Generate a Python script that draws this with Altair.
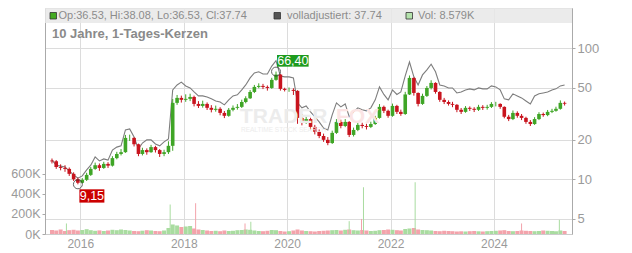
import altair as alt
import pandas as pd

# ---------------- data ----------------
# monthly candles, June 2015 .. May 2025
first_open = 13.9
close_px = [13.7, 12.4, 12.2, 12.0, 11.0, 10.0, 9.4, 9.9, 10.8, 12.0,
            12.8, 12.2, 13.1, 12.7, 14.5, 15.6, 16.1, 20.7, 20.7, 18.5,
            15.6, 16.7, 16.1, 17.6, 16.7, 15.6, 16.1, 18.0, 38.3, 41.8,
            40.4, 41.1, 42.5, 37.6, 36.3, 37.6, 35.1, 33.9, 34.5, 32.1,
            30.5, 33.9, 35.1, 35.7, 38.9, 41.5, 46.4, 50.7, 51.6, 50.7,
            49.8, 57.4, 63.0, 49.0, 48.1, 48.1, 47.3, 29.4, 27.4, 28.8,
            25.1, 23.0, 21.4, 20.0, 18.9, 22.6, 27.4, 25.5, 27.4, 21.8,
            23.8, 26.0, 25.5, 25.1, 26.4, 29.4, 35.7, 33.3, 30.5, 36.3,
            32.7, 31.5, 44.4, 59.4, 45.6, 37.6, 43.3, 49.8, 54.4, 46.4,
            40.4, 38.9, 37.6, 37.0, 33.9, 32.7, 35.1, 34.5, 33.9, 35.7,
            35.1, 35.7, 37.6, 37.6, 35.7, 30.0, 28.8, 32.1, 30.5, 29.4,
            27.4, 26.4, 28.8, 31.5, 30.9, 32.7, 33.3, 34.5, 38.3, 37.74]
high_px = [14.4, 14.0, 13.0, 12.8, 12.3, 11.3, 10.3, 10.2, 11.2, 12.4,
           13.4, 13.2, 13.6, 13.5, 15.0, 16.2, 17.0, 21.8, 21.9, 20.9,
           18.7, 17.4, 17.2, 18.3, 18.0, 17.0, 16.8, 19.5, 41.0, 44.0,
           43.5, 44.5, 45.0, 43.5, 39.5, 39.8, 38.6, 36.8, 36.5, 35.5,
           33.2, 35.0, 36.6, 37.5, 40.5, 43.0, 48.0, 52.5, 54.0, 53.5,
           52.0, 59.5, 66.4, 63.5, 50.0, 50.2, 49.5, 47.8, 31.5, 30.5,
           29.5, 26.0, 24.0, 22.3, 21.0, 23.5, 28.8, 28.5, 28.8, 27.8,
           24.8, 27.2, 27.0, 26.5, 27.5, 30.5, 37.5, 36.5, 34.0, 37.8,
           37.0, 34.0, 46.5, 62.0, 60.0, 46.0, 45.0, 51.5, 57.0, 55.0,
           47.0, 41.8, 40.0, 39.0, 37.5, 35.0, 36.2, 36.0, 35.5, 37.0,
           36.8, 37.0, 38.8, 39.0, 38.0, 36.0, 31.0, 33.5, 33.0, 31.5,
           30.0, 28.3, 29.8, 32.5, 32.3, 33.8, 34.5, 35.8, 40.0, 39.2]
low_px = [13.2, 12.0, 11.7, 11.4, 10.6, 9.7, 9.15, 9.3, 9.7, 10.6,
          11.8, 11.6, 12.0, 12.2, 12.5, 14.2, 15.2, 15.9, 19.6, 17.8,
          15.0, 15.2, 15.4, 15.9, 16.0, 14.8, 15.0, 15.6, 16.5, 37.0,
          38.5, 39.0, 39.5, 36.0, 35.0, 35.2, 33.8, 32.4, 32.8, 30.8,
          29.3, 30.0, 33.0, 34.0, 35.0, 38.0, 41.0, 45.5, 49.5, 48.8,
          47.5, 49.0, 56.5, 47.5, 46.8, 46.5, 44.0, 26.5, 25.8, 26.5,
          24.0, 22.0, 20.6, 19.3, 18.2, 18.6, 22.2, 24.5, 25.0, 21.0,
          21.2, 23.3, 24.5, 24.0, 24.6, 26.0, 29.0, 32.0, 29.5, 30.0,
          31.5, 30.5, 31.0, 44.0, 43.5, 36.0, 37.0, 42.5, 48.5, 45.0,
          39.0, 37.5, 36.5, 35.5, 32.5, 31.5, 32.2, 33.2, 32.6, 33.2,
          33.8, 34.0, 35.0, 36.0, 34.5, 29.2, 27.8, 28.3, 29.5, 28.3,
          26.5, 25.5, 26.0, 28.3, 30.0, 30.3, 32.0, 32.8, 34.0, 36.53]
adj_px = [14.0, 12.8, 12.6, 12.4, 11.6, 10.8, 10.2, 10.6, 11.8, 12.8,
          14.8, 13.8, 14.3, 14.0, 16.7, 17.6, 18.0, 23.8, 24.2, 21.0,
          17.0, 18.9, 20.0, 20.0, 18.6, 18.0, 19.3, 20.3, 48.1, 52.5,
          55.2, 51.6, 49.8, 46.4, 43.3, 43.3, 42.5, 41.1, 39.6, 38.9,
          37.0, 40.4, 43.3, 44.1, 48.1, 52.5, 59.4, 64.9, 66.1, 63.7,
          63.7, 73.1, 80.3, 61.5, 60.5, 60.5, 59.4, 38.3, 35.1, 36.3,
          32.7, 30.0, 27.4, 24.6, 23.8, 31.0, 38.3, 35.7, 37.6, 30.0,
          32.7, 35.1, 33.9, 33.3, 35.1, 40.4, 50.7, 44.4, 40.4, 48.1,
          44.4, 46.4, 61.5, 78.6, 60.5, 52.5, 62.6, 68.4, 75.6, 66.1,
          52.5, 51.6, 49.8, 49.8, 45.6, 46.4, 48.1, 49.0, 48.1, 49.8,
          49.0, 49.0, 51.6, 50.7, 48.1, 41.1, 40.4, 44.9, 43.3, 41.8,
          39.6, 37.6, 43.3, 44.9, 45.6, 46.4, 48.1, 49.0, 51.6, 52.5]
vol_k = [40, 35, 45, 30, 38, 42, 35, 40, 48, 38, 32, 36,
         30, 35, 42, 38, 45, 40, 35, 30, 28, 33, 38, 35,
         30, 28, 35, 60, 95, 85, 70, 75, 80, 55, 45, 40,
         35, 30, 32, 28, 35, 30, 32, 38, 40, 45, 42, 35,
         30, 28, 32, 40, 38, 30, 25, 28, 35, 45, 35, 30,
         28, 25, 30, 32, 35, 38, 40, 35, 42, 45, 38, 35,
         40, 35, 30, 32, 38, 40, 45, 42, 38, 35, 50, 55,
         60, 45, 40, 38, 35, 30, 28, 32, 30, 28, 25, 27,
         25, 28, 30, 27, 25, 28, 30, 32, 35, 38, 30, 28,
         30, 35, 32, 30, 28, 30, 35, 32, 30, 28, 35, 30]

# single-day volume spikes
spike_dates = ["2015-09-25", "2017-09-27", "2018-03-26", "2019-03-10", "2019-04-20",
               "2021-03-15", "2021-06-10", "2021-06-24", "2022-06-24", "2024-07-15",
               "2025-04-08"]
spike_vol_k = [105, 294, 307, 105, 122, 128, 150, 466, 516, 105, 141]
spike_dir = ["up", "up", "down", "down", "up", "up", "down", "up", "up", "down", "up"]

# annotations
ann_idx = [52, 6]
ann_val = [66.40, 9.15]
ann_text = ["66,40", "9,15"]

header_items = ["Op:36.53, Hi:38.08, Lo:36.53, Cl:37.74", "volladjustiert: 37.74", "Vol: 8.579K"]
title_text = "10 Jahre, 1-Tages-Kerzen"

price_ticks = [5, 10, 20, 50, 100]
vol_ticks = [0, 200, 400, 600]
year_ticks = [2016, 2018, 2020, 2022, 2024]

# ---------------- tables ----------------
dates = (pd.date_range("2015-06-01", periods=120, freq="MS") + pd.Timedelta(days=14)).strftime("%Y-%m-%d").tolist()
open_px = [first_open] + close_px[:-1]
df = pd.DataFrame({"d": dates, "o": open_px, "h": high_px, "l": low_px,
                   "c": close_px, "adj": adj_px, "vol": vol_k})
df["dir"] = ["up" if c >= o else "down" for o, c in zip(open_px, close_px)]
spikes = pd.DataFrame({"d": spike_dates, "vol": spike_vol_k, "dir": spike_dir})
ann = pd.DataFrame({"d": [dates[i] for i in ann_idx], "p": ann_val, "lab": ann_text})
one = pd.DataFrame({"a": [0]})

W, H = 527, 226
FONT = "Liberation Sans"
GREEN, RED = "#3fa526", "#c8141e"
VGREEN, VRED = "#a9dca0", "#f3a3ab"

xscale = alt.Scale(domain=[alt.DateTime(year=2015, month=6, date=1),
                           alt.DateTime(year=2025, month=6, date=1)])
xaxis = alt.Axis(values=[alt.DateTime(year=y, month=1, date=1) for y in year_ticks],
                 format="%Y", grid=True, gridColor="#dcdcdc", ticks=False, domain=False,
                 labelColor="#9a9a9a", labelFontSize=12, labelPadding=4, title=None,
                 labelFont=FONT)
X = alt.X("d:T", scale=xscale, axis=xaxis)

pscale = alt.Scale(type="log", domain=[3.82, 203], nice=False)
paxis = alt.Axis(orient="right", values=price_ticks, format="d", grid=True, gridColor="#dcdcdc",
                 tickSize=3, tickColor="#aaaaaa", domainColor="#aaaaaa", labelColor="#9a9a9a",
                 labelFontSize=13, labelPadding=2, title=None, labelFont=FONT)
vscale = alt.Scale(domain=[0, 2253], nice=False, zero=True)
vaxis = alt.Axis(orient="left", values=vol_ticks, labelExpr="datum.value + 'K'", grid=False,
                 tickSize=3, tickColor="#aaaaaa", domainColor="#aaaaaa", labelColor="#9a9a9a",
                 labelFontSize=12.5, labelPadding=2, title=None, labelFont=FONT)


def PY(field):
    return alt.Y(field, type="quantitative", scale=pscale, axis=paxis)


def VY(field):
    return alt.Y(field, type="quantitative", scale=vscale, axis=vaxis)


cscale = alt.Scale(domain=["up", "down"], range=[GREEN, RED])
vcscale = alt.Scale(domain=["up", "down"], range=[VGREEN, VRED])

base = alt.Chart(df)

# header band and watermark
band = alt.Chart(one).mark_rect(color="#e8e8e8", opacity=0.85).encode(
    x=alt.value(0), x2=alt.value(W), y=alt.value(0), y2=alt.value(15))
wm1 = alt.Chart(one).mark_text(text="TRADER", font=FONT, fontSize=21, fontWeight="bold",
                               color="#ececec", align="left", baseline="alphabetic").encode(
    x=alt.value(195), y=alt.value(115))
wm2 = alt.Chart(one).mark_text(text="FOX", font=FONT, fontSize=21, fontWeight="bold",
                               color="#fbe4e4", align="left", baseline="alphabetic").encode(
    x=alt.value(291), y=alt.value(115))
wm3 = alt.Chart(one).mark_text(text="REALTIME STOCK SEARCH", font=FONT, fontSize=6.5,
                               color="#ececec", align="left", baseline="alphabetic").encode(
    x=alt.value(196), y=alt.value(124))

# volume
vbars = base.mark_bar(size=4).encode(
    x=X, y=VY("vol"),
    color=alt.Color("dir:N", scale=vcscale, legend=None))
vspk = alt.Chart(spikes).mark_rule(strokeWidth=1).encode(
    x=X, y=VY("vol"), y2=alt.value(H),
    color=alt.Color("dir:N", scale=vcscale, legend=None))
vol_layer = alt.layer(vbars, vspk)

# price
gray = base.mark_line(color="#7d7d7d", strokeWidth=1.1).encode(x=X, y=PY("adj"))
wick = base.mark_rule(strokeWidth=1).encode(
    x=X, y=PY("l"), y2="h",
    color=alt.Color("dir:N", scale=cscale, legend=None))
body = base.mark_bar(size=3.6).encode(
    x=X, y=PY("o"), y2="c",
    color=alt.Color("dir:N", scale=cscale, legend=None))
circ = alt.Chart(ann).mark_point(shape="circle", size=80, filled=False, color="#222222",
                                 strokeWidth=1).encode(x=X, y=PY("p"))
ann_hi = alt.Chart(ann).transform_filter(alt.datum.p > 20)
ann_lo = alt.Chart(ann).transform_filter(alt.datum.p < 20)
box_hi = ann_hi.mark_rect(color="#1e9b1e", xOffset=1, x2Offset=32.6, yOffset=-16.6, y2Offset=-4.9).encode(
    x=X, x2="d", y=PY("p"), y2="p")
txt_hi = ann_hi.mark_text(color="white", font=FONT, fontSize=12.5, dx=16.8, dy=-10.6,
                          baseline="middle", align="center").encode(
    x=X, y=PY("p"), text="lab:N")
box_lo = ann_lo.mark_rect(color="#cc0000", xOffset=1.5, x2Offset=26.5, yOffset=5, y2Offset=18.3).encode(
    x=X, x2="d", y=PY("p"), y2="p")
txt_lo = ann_lo.mark_text(color="white", font=FONT, fontSize=12.5, dx=14, dy=11.6,
                          baseline="middle", align="center").encode(
    x=X, y=PY("p"), text="lab:N")
price_layer = alt.layer(gray, wick, body, circ, box_hi, txt_hi, box_lo, txt_lo)

# header legend
def sq(x0, fill):
    return alt.Chart(one).mark_rect(color=fill, stroke="#333333", strokeWidth=0.8).encode(
        x=alt.value(x0), x2=alt.value(x0 + 6.5), y=alt.value(4.5), y2=alt.value(11))


def htxt(x0, t):
    return alt.Chart(one).mark_text(text=t, font=FONT, fontSize=11, color="#8c8c8c",
                                    align="left", baseline="middle").encode(
        x=alt.value(x0), y=alt.value(8))


hdr = alt.layer(
    sq(5, "#44aa22"), htxt(13.5, header_items[0]),
    sq(229, "#555555"), htxt(242, header_items[1]),
    sq(361, "#b4e2ac"), htxt(373, header_items[2]),
    alt.Chart(one).mark_text(text=title_text, font=FONT, fontSize=13, fontWeight="bold",
                             color="#8a8a8a", align="left", baseline="middle").encode(
        x=alt.value(7), y=alt.value(26)),
)

chart = alt.layer(vol_layer, price_layer, band, wm1, wm2, wm3, hdr).resolve_scale(
    y="independent", color="independent"
).properties(
    width=W, height=H,
    autosize=alt.AutoSizeParams(type="none"),
    padding={"left": 45, "top": 8, "right": 60, "bottom": 19},
    background="white",
).configure_view(stroke="#cccccc", strokeWidth=1)

chart.save("out.html", embed_options={"renderer": "svg", "actions": False})
